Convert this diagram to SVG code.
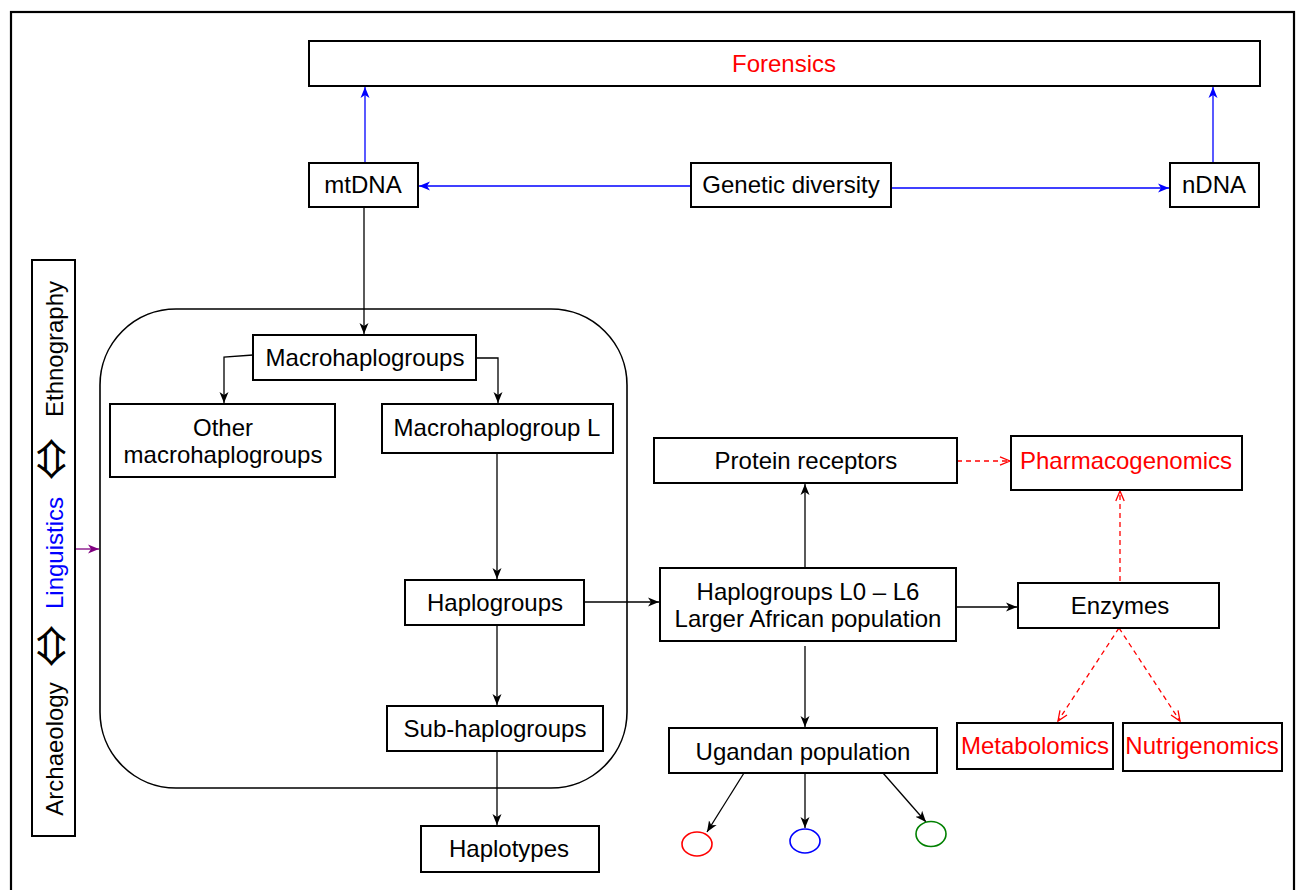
<svg xmlns="http://www.w3.org/2000/svg" width="1298" height="890" viewBox="0 0 1298 890">
  <style>
    .box { fill: #fff; stroke: #000; stroke-width: 2; }
    .t { font-family: "Liberation Sans", Arial, sans-serif; font-size: 24px; fill: #000; text-anchor: middle; }
    .red { fill: #ff0000; }
    .blue { fill: #0000ff; }
    .sym { font-family: "Noto Sans CJK JP", "DejaVu Sans", sans-serif; font-size: 42px; fill: #000; text-anchor: middle; }
    .c-k { fill: none; stroke: #000; stroke-width: 1.3; marker-end: url(#ah-k); }
    .c-b { fill: none; stroke: #0000ff; stroke-width: 1.3; marker-end: url(#ah-b); }
    .c-r { fill: none; stroke: #ff0000; stroke-width: 1.3; stroke-dasharray: 5 4; marker-end: url(#ah-r); }
    .c-p { fill: none; stroke: #800080; stroke-width: 1.3; marker-end: url(#ah-p); }
  </style>
  <defs>
    <marker id="ah-k" viewBox="0 0 12 10" refX="11" refY="5" markerWidth="12" markerHeight="10" markerUnits="userSpaceOnUse" orient="auto">
      <path d="M0,0.5 L11,5 L0,9.5 L3,5 z" fill="#000"/>
    </marker>
    <marker id="ah-b" viewBox="0 0 12 10" refX="11" refY="5" markerWidth="12" markerHeight="10" markerUnits="userSpaceOnUse" orient="auto">
      <path d="M0,0.5 L11,5 L0,9.5 L3,5 z" fill="#0000ff"/>
    </marker>
    <marker id="ah-p" viewBox="0 0 12 10" refX="11" refY="5" markerWidth="12" markerHeight="10" markerUnits="userSpaceOnUse" orient="auto">
      <path d="M0,0.5 L11,5 L0,9.5 L3,5 z" fill="#800080"/>
    </marker>
    <marker id="ah-r" viewBox="0 0 12 10" refX="11" refY="5" markerWidth="12" markerHeight="10" markerUnits="userSpaceOnUse" orient="auto">
      <path d="M1,0.8 L11,5 L1,9.2" fill="none" stroke="#ff0000" stroke-width="1.3"/>
    </marker>
  </defs>

  <rect width="1298" height="890" fill="#fff"/>
  <!-- frame -->
  <rect x="11" y="12" width="1283" height="890" fill="none" stroke="#000" stroke-width="2.2"/>

  <!-- mtDNA lineage container -->
  <rect id="lineage-group" x="100" y="309" width="527" height="479" rx="76" ry="76" fill="none" stroke="#000" stroke-width="1.6"/>

  <!-- connectors -->
  <g id="connectors">
    <path class="c-b" d="M365,162 V87"/>
    <path class="c-b" d="M1213,162 V87"/>
    <path class="c-b" d="M691,186 H419"/>
    <path class="c-b" d="M891,188 H1169"/>
    <path class="c-k" d="M364,207 V334"/>
    <path class="c-k" d="M253,355 L224,357 V403"/>
    <path class="c-k" d="M476,358 H498 V403"/>
    <path class="c-k" d="M497,453 V579"/>
    <path class="c-k" d="M497,625 V705"/>
    <path class="c-k" d="M497,751 V825"/>
    <path class="c-k" d="M584,602 H659"/>
    <path class="c-k" d="M805,568 V484"/>
    <path class="c-k" d="M805,646 V727"/>
    <path class="c-k" d="M956,607 H1017"/>
    <path class="c-k" d="M744,773 L707,832"/>
    <path class="c-k" d="M805,773 V828"/>
    <path class="c-k" d="M883,773 L926,822"/>
    <path class="c-r" d="M957,461 H1010"/>
    <path class="c-r" d="M1120,581 V491"/>
    <path class="c-r" d="M1119,628 L1058,721"/>
    <path class="c-r" d="M1119,628 L1180,721"/>
    <path class="c-p" d="M75,549 H99"/>
  </g>

  <g id="forensics">
    <rect class="box" x="309" y="41" width="951" height="45"/>
    <text class="t red" x="784" y="72">Forensics</text>
  </g>
  <g id="mtdna">
    <rect class="box" x="309" y="163" width="109" height="44"/>
    <text class="t" x="363" y="193">mtDNA</text>
  </g>
  <g id="genetic-diversity">
    <rect class="box" x="691" y="163" width="200" height="44"/>
    <text class="t" x="791" y="193">Genetic diversity</text>
  </g>
  <g id="ndna">
    <rect class="box" x="1170" y="163" width="89" height="44"/>
    <text class="t" x="1214" y="193">nDNA</text>
  </g>

  <g id="disciplines">
    <rect class="box" x="32" y="260" width="43" height="576"/>
    <text class="t" transform="rotate(-90 63 749)" x="63" y="749">Archaeology</text>
    <text class="sym" transform="rotate(-90 67 646)" x="67" y="646">⇔</text>
    <text class="t blue" transform="rotate(-90 63 553)" x="63" y="553">Linguistics</text>
    <text class="sym" transform="rotate(-90 67 459)" x="67" y="459">⇔</text>
    <text class="t" transform="rotate(-90 63 349)" x="63" y="349">Ethnography</text>
  </g>

  <g id="macrohaplogroups">
    <rect class="box" x="253" y="335" width="223" height="45"/>
    <text class="t" x="365" y="366">Macrohaplogroups</text>
  </g>
  <g id="other-macrohaplogroups">
    <rect class="box" x="110" y="404" width="225" height="73"/>
    <text class="t" x="223" y="436">Other</text>
    <text class="t" x="223" y="463">macrohaplogroups</text>
  </g>
  <g id="macrohaplogroup-l">
    <rect class="box" x="382" y="404" width="231" height="49"/>
    <text class="t" x="497" y="436">Macrohaplogroup L</text>
  </g>
  <g id="haplogroups">
    <rect class="box" x="405" y="580" width="179" height="45"/>
    <text class="t" x="495" y="611">Haplogroups</text>
  </g>
  <g id="sub-haplogroups">
    <rect class="box" x="387" y="706" width="216" height="45"/>
    <text class="t" x="495" y="737">Sub-haplogroups</text>
  </g>
  <g id="haplotypes">
    <rect class="box" x="421" y="826" width="178" height="46"/>
    <text class="t" x="509" y="857">Haplotypes</text>
  </g>

  <g id="protein-receptors">
    <rect class="box" x="654" y="438" width="303" height="45"/>
    <text class="t" x="806" y="469">Protein receptors</text>
  </g>
  <g id="haplogroups-l0-l6">
    <rect class="box" x="660" y="568" width="296" height="73"/>
    <text class="t" x="808" y="600">Haplogroups L0 – L6</text>
    <text class="t" x="808" y="627">Larger African population</text>
  </g>
  <g id="ugandan-population">
    <rect class="box" x="669" y="728" width="268" height="45"/>
    <text class="t" x="803" y="760">Ugandan population</text>
  </g>
  <g id="subgroups">
    <ellipse cx="697" cy="844" rx="15" ry="12" fill="none" stroke="#ff0000" stroke-width="1.6"/>
    <ellipse cx="805" cy="841" rx="15" ry="12" fill="none" stroke="#0000ff" stroke-width="1.6"/>
    <ellipse cx="931" cy="834" rx="15" ry="12.5" fill="none" stroke="#008000" stroke-width="1.6"/>
  </g>

  <g id="pharmacogenomics">
    <rect class="box" x="1011" y="436" width="231" height="54"/>
    <text class="t red" x="1126" y="469">Pharmacogenomics</text>
  </g>
  <g id="enzymes">
    <rect class="box" x="1018" y="583" width="201" height="45"/>
    <text class="t" x="1120" y="614">Enzymes</text>
  </g>
  <g id="metabolomics">
    <rect class="box" x="957" y="723" width="156" height="46"/>
    <text class="t red" x="1035" y="754">Metabolomics</text>
  </g>
  <g id="nutrigenomics">
    <rect class="box" x="1123" y="723" width="159" height="48"/>
    <text class="t red" x="1202" y="754">Nutrigenomics</text>
  </g>
</svg>
